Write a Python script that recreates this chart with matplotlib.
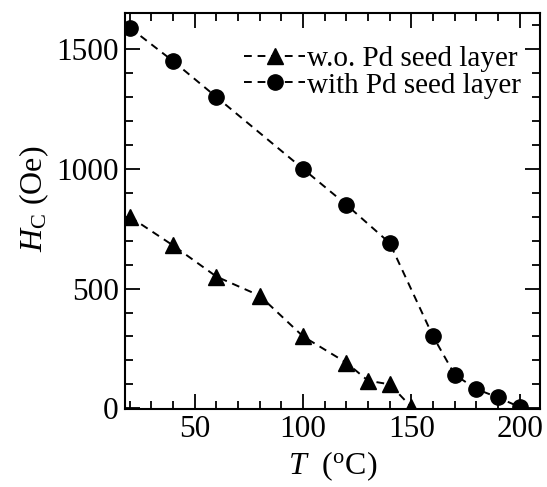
import matplotlib
matplotlib.use("Agg")
import matplotlib.pyplot as plt
from matplotlib.ticker import MultipleLocator

plt.rcParams["font.family"] = ["Liberation Serif", "DejaVu Serif"]
plt.rcParams["mathtext.fontset"] = "custom"
plt.rcParams["mathtext.rm"] = "Liberation Serif"
plt.rcParams["mathtext.it"] = "Liberation Serif:italic"

# data
t_wo = [20, 40, 60, 80, 100, 120, 130, 140, 150]
hc_wo = [800, 680, 550, 470, 300, 190, 115, 100, 5]
t_with = [20, 40, 60, 100, 120, 140, 160, 170, 180, 190, 200]
hc_with = [1590, 1450, 1300, 1000, 850, 690, 300, 140, 80, 45, 5]

fig = plt.figure(figsize=(5.47, 4.87), dpi=100)
ax = fig.add_axes([0.2294, 0.1602, 0.7576, 0.8125])

ax.plot(t_wo, hc_wo, "k--", marker="^", markersize=12, lw=1.4,
        dashes=(4, 3), label="w.o. Pd seed layer")
ax.plot(t_with, hc_with, "k--", marker="o", markersize=11, lw=1.4,
        dashes=(4, 3), label="with Pd seed layer")

ax.set_xlim(18, 209.3)
ax.set_ylim(-3, 1650)
ax.xaxis.set_major_locator(MultipleLocator(50))
ax.xaxis.set_minor_locator(MultipleLocator(10))
ax.yaxis.set_major_locator(MultipleLocator(500))
ax.yaxis.set_minor_locator(MultipleLocator(100))
ax.tick_params(which="both", direction="in", top=True, right=True,
               labelsize=22.5, width=1.3)
ax.tick_params(axis="x", pad=4)
ax.tick_params(axis="y", pad=5)
ax.tick_params(which="major", length=11)
ax.tick_params(which="minor", length=6)
for s in ax.spines.values():
    s.set_linewidth(1.5)

ax.set_xlabel(r"$T$  ($^{\rm o}$C)", fontsize=23, labelpad=4)
ax.set_ylabel(r"$H_{\rm C}$ (Oe)", fontsize=23)
ax.yaxis.set_label_coords(-0.18, 0.53)

ax.legend(loc="upper right", frameon=False, fontsize=21, handlelength=2.1,
          handletextpad=0.05, borderaxespad=0.0, borderpad=0.3,
          labelspacing=0.0, bbox_to_anchor=(0.975, 0.94))

fig.savefig("out.png", dpi=100)
